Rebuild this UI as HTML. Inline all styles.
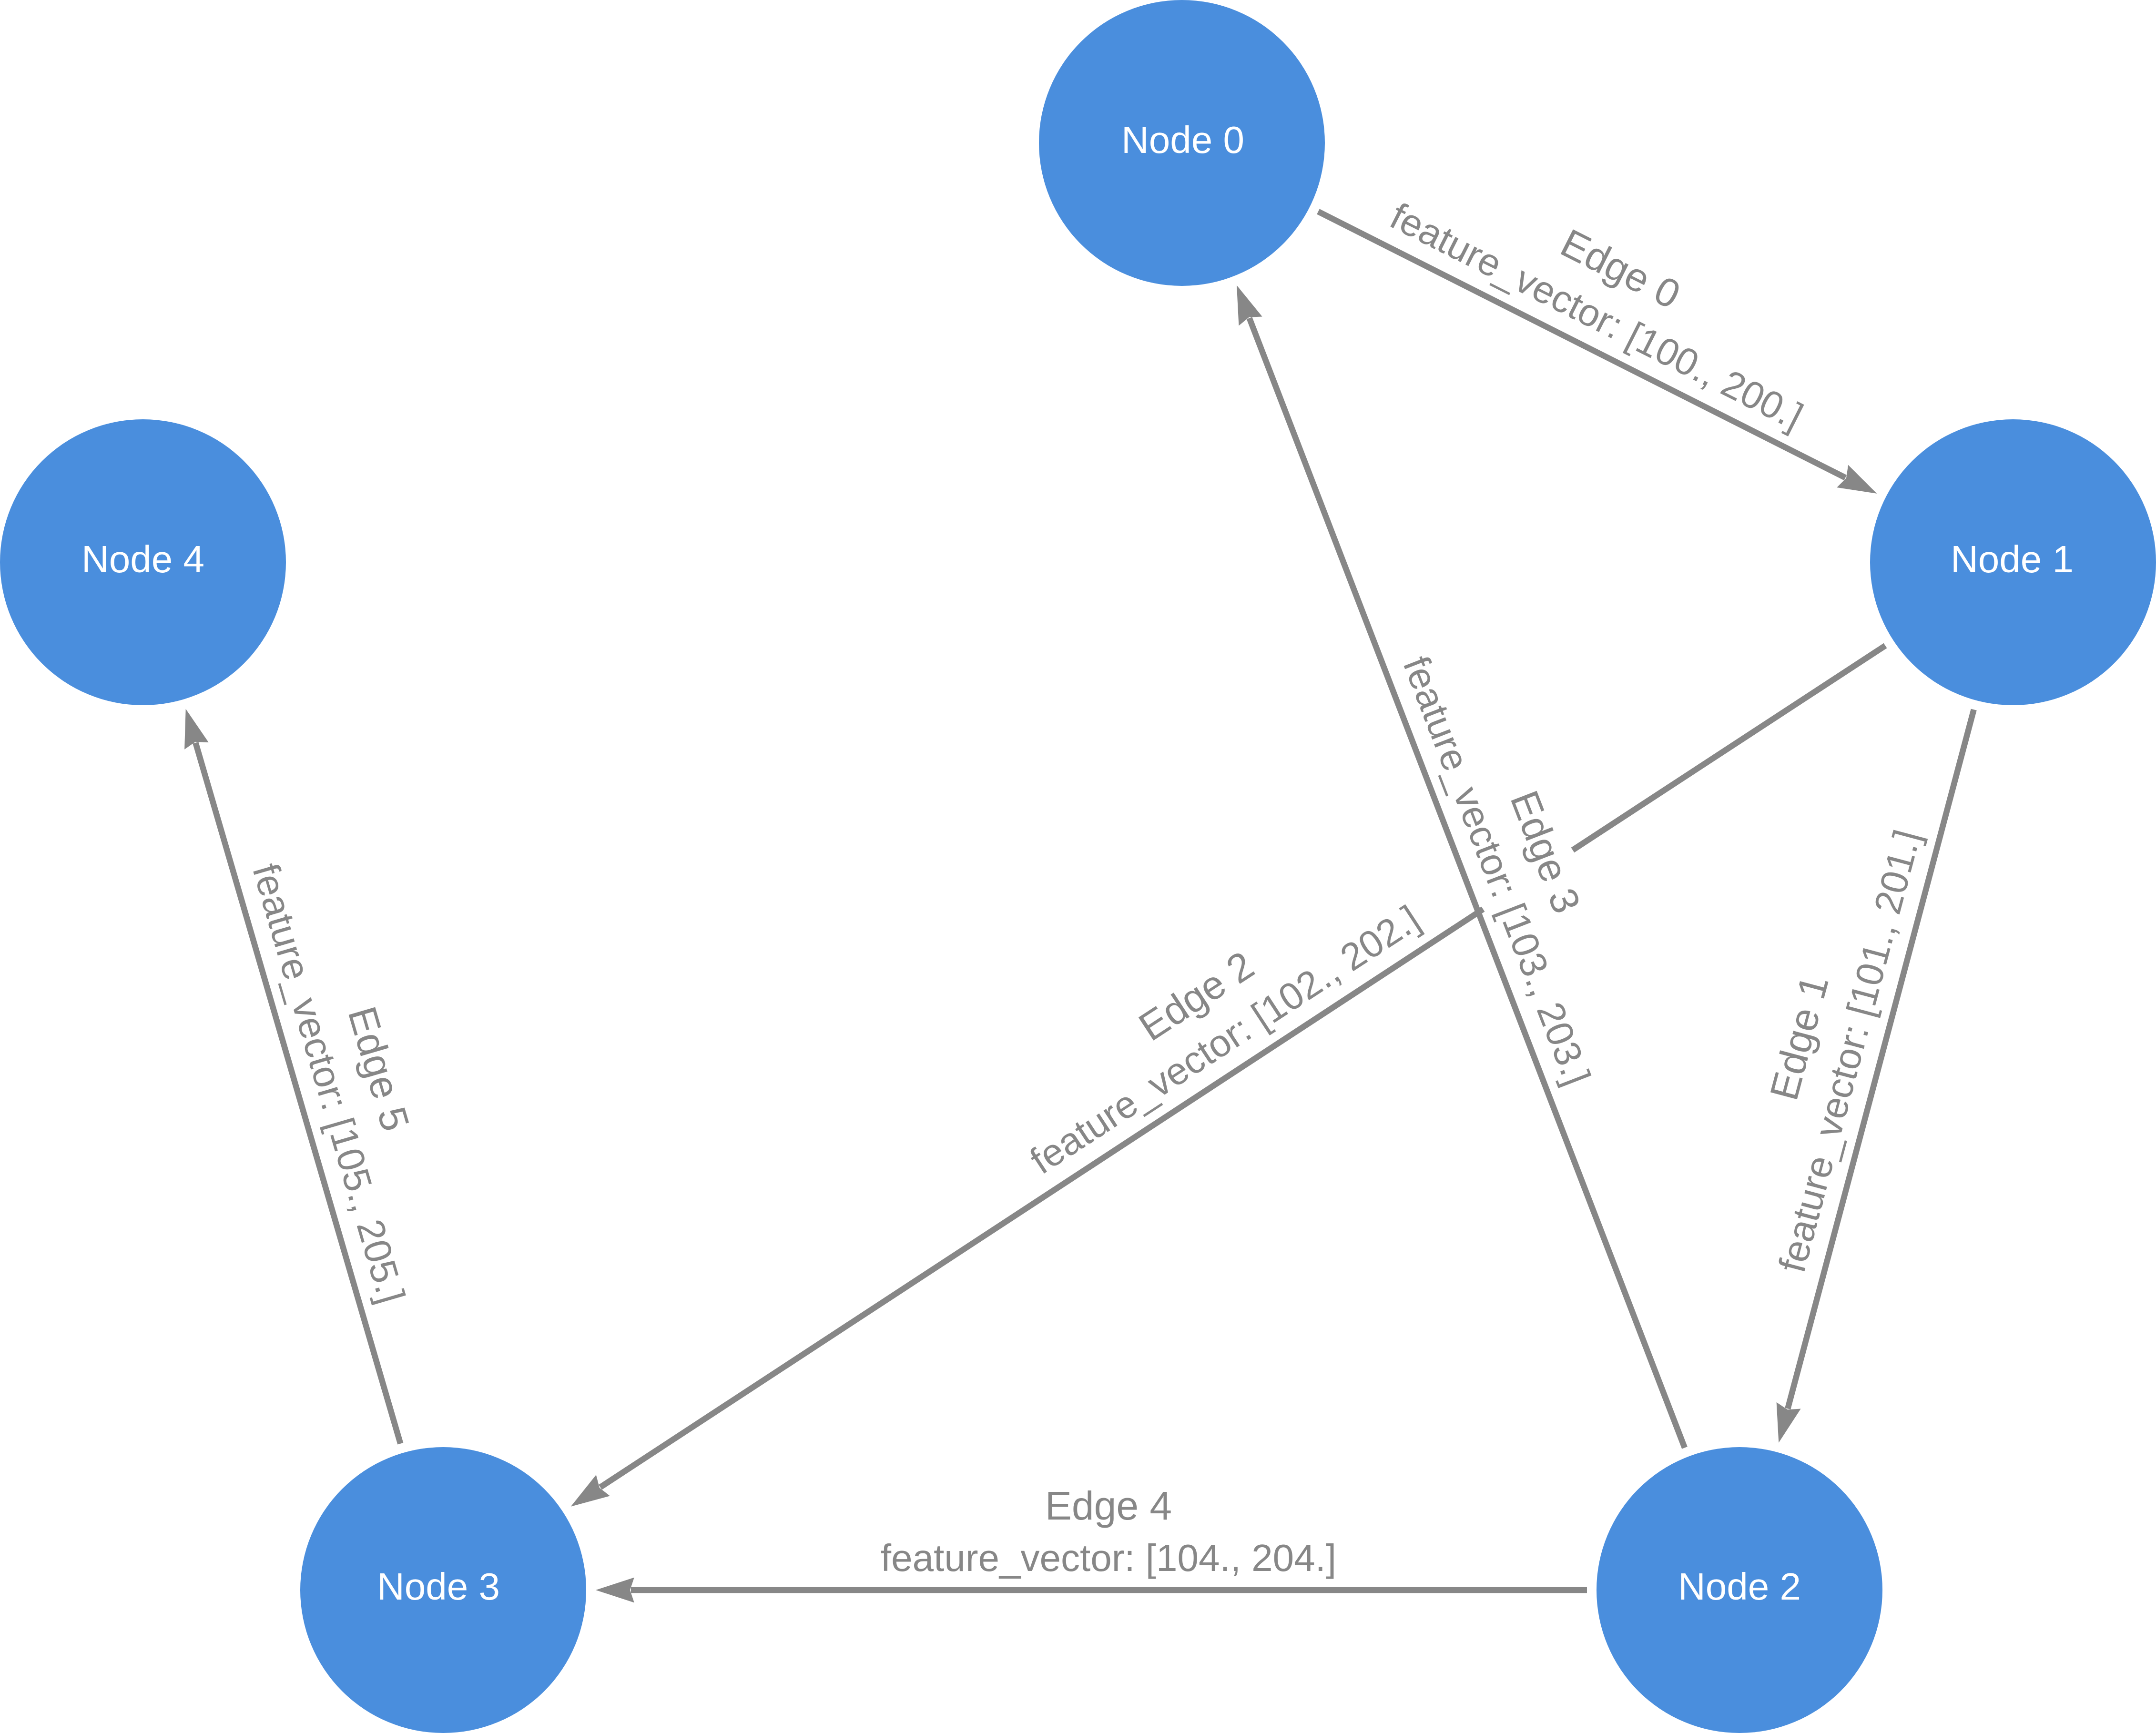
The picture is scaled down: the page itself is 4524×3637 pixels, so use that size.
<!DOCTYPE html>
<html><head><meta charset="utf-8"><style>
html,body{margin:0;padding:0;background:#fff}
svg{display:block}
text{font-family:"Liberation Sans",Arial,sans-serif;font-size:80px}
.n{fill:#fff;text-anchor:middle}
.e{fill:#878787;text-anchor:middle}
.t{font-size:84px}
line{stroke:#878787;stroke-width:12.5}
polygon{fill:#878787}
circle{fill:#4A8EDD}
</style></head><body>
<svg xmlns="http://www.w3.org/2000/svg" width="4524" height="3637" viewBox="0 0 4524 3637">
<circle cx="2480" cy="300" r="300"/>
<circle cx="4224" cy="1180" r="300"/>
<circle cx="3650" cy="3337" r="300"/>
<circle cx="930" cy="3337" r="300"/>
<circle cx="300" cy="1180" r="300"/>

<line x1="2766" y1="444" x2="3872.2" y2="1002.5"/>
<polygon points="3938.3,1035.8 3878.1,975.8 3874,1003.4 3854.3,1023"/>

<line x1="4141.7" y1="1489.2" x2="3751.3" y2="2956.3"/>
<polygon points="3732.3,3027.8 3778.6,2956.5 3750.8,2958.2 3727.6,2942.9"/>

<line x1="3956" y1="1355" x2="3300" y2="1784"/>
<line x1="3112" y1="1908" x2="1259.6" y2="3121.2"/>
<polygon points="1197.7,3161.7 1279.8,3139.5 1257.9,3122.3 1250.8,3095.3"/>

<line x1="3535" y1="3038.4" x2="2621.6" y2="667.6"/>
<polygon points="2595,598.6 2648.6,664.5 2620.9,665.8 2599.4,683.5"/>

<line x1="3330" y1="3337" x2="1324" y2="3337"/>
<polygon points="1250,3337 1330.8,3310.6 1322,3337 1330.8,3363.4"/>

<line x1="840.3" y1="3029.8" x2="410.4" y2="1558.8"/>
<polygon points="389.7,1487.8 437.7,1558 409.9,1556.9 387.1,1572.8"/>

<text class="n" x="2482" y="321">Node 0</text>
<text class="n" x="4222" y="1201">Node 1</text>
<text class="n" x="3650" y="3357">Node 2</text>
<text class="n" x="920" y="3357">Node 3</text>
<text class="n" x="300" y="1201">Node 4</text>

<g transform="translate(3352,740) rotate(26.8)">
<text class="e t" x="-36" y="-150">Edge 0</text>
<text class="e" x="-36" y="-40">feature_vector: [100., 200.]</text>
</g>
<g transform="translate(3937,2258) rotate(-75.1)">
<text class="e t" x="36" y="-148">Edge 1</text>
<text class="e" x="36" y="-40">feature_vector: [101., 201.]</text>
</g>
<g transform="translate(2577,2258) rotate(-33.2)">
<text class="e t" x="36" y="-148">Edge 2</text>
<text class="e" x="36" y="-40">feature_vector: [102., 202.]</text>
</g>
<g transform="translate(3065,1818) rotate(68.9)">
<text class="e t" x="36" y="-148">Edge 3</text>
<text class="e" x="36" y="-40">feature_vector: [103., 203.]</text>
</g>
<g transform="translate(2290,3337)">
<text class="e t" x="36" y="-148">Edge 4</text>
<text class="e" x="36" y="-40">feature_vector: [104., 204.]</text>
</g>
<g transform="translate(615,2258) rotate(73.7)">
<text class="e t" x="36" y="-148">Edge 5</text>
<text class="e" x="36" y="-40">feature_vector: [105., 205.]</text>
</g>
</svg>
</body></html>
